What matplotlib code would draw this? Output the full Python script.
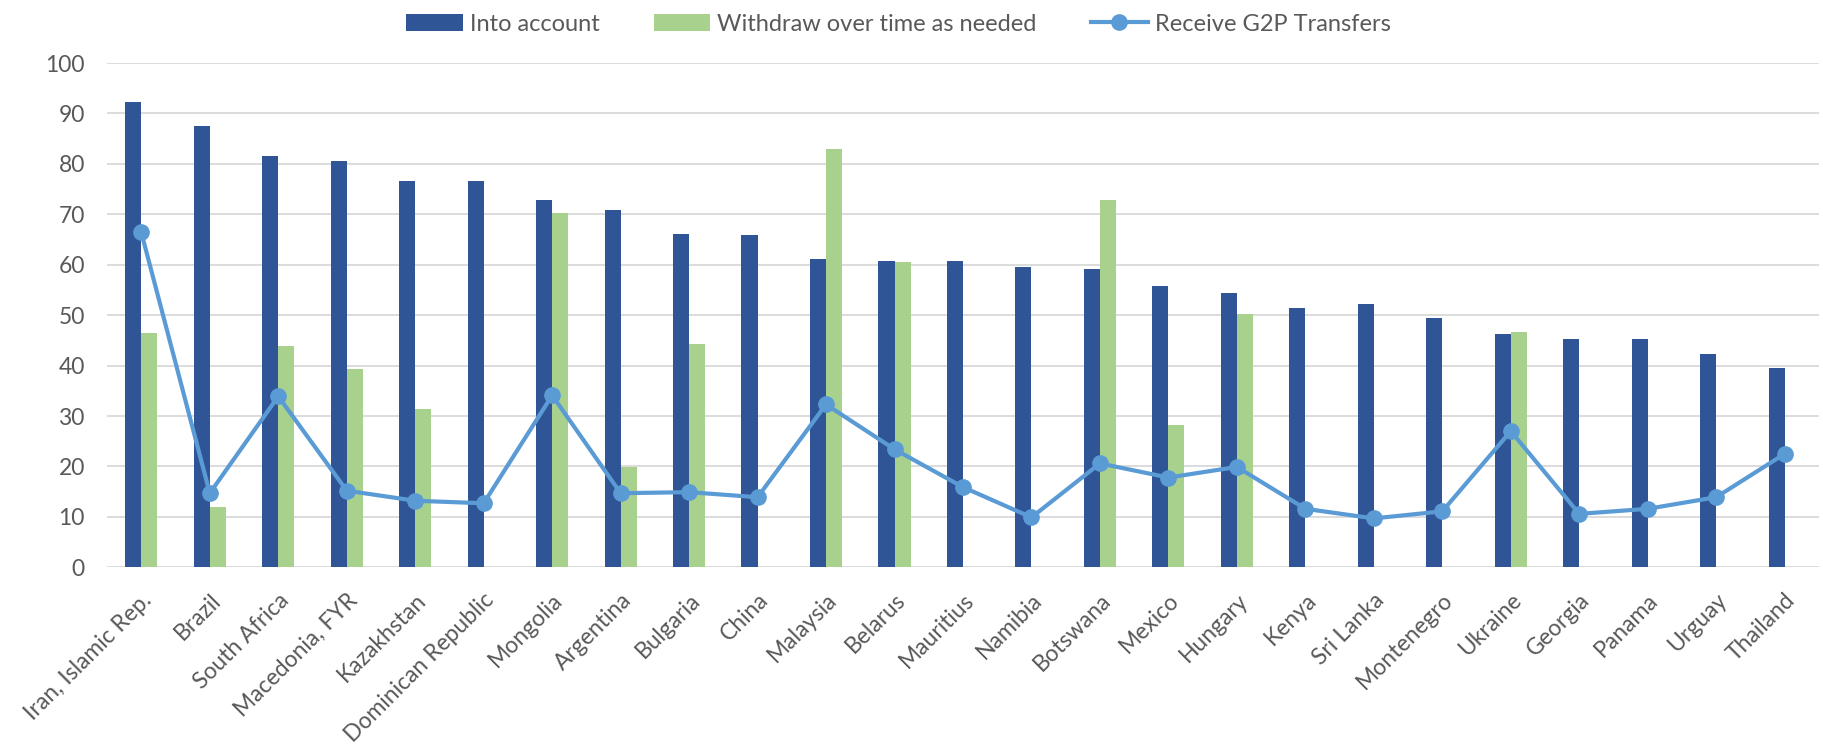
import matplotlib.pyplot as plt
import numpy as np

plt.rcParams['font.family'] = ['Lato', 'DejaVu Sans']

countries = ['Iran, Islamic Rep.', 'Brazil', 'South Africa', 'Macedonia, FYR', 'Kazakhstan',
             'Dominican Republic', 'Mongolia', 'Argentina', 'Bulgaria', 'China', 'Malaysia',
             'Belarus', 'Mauritius', 'Namibia', 'Botswana', 'Mexico', 'Hungary', 'Kenya',
             'Sri Lanka', 'Montenegro', 'Ukraine', 'Georgia', 'Panama', 'Urguay', 'Thailand']

into_account = [92.3, 87.5, 81.6, 80.5, 76.7, 76.7, 72.8, 70.8, 66.0, 65.8, 61.1, 60.8, 60.8,
                59.5, 59.2, 55.8, 54.4, 51.4, 52.2, 49.5, 46.2, 45.3, 45.3, 42.3, 39.5]

withdraw = [46.4, 12.0, 43.9, 39.4, 31.4, np.nan, 70.3, 19.8, 44.2, np.nan, 83.0, 60.6, np.nan,
            np.nan, 72.8, 28.3, 50.3, np.nan, np.nan, np.nan, 46.7, np.nan, np.nan, np.nan, np.nan]

g2p = [66.4, 14.7, 33.9, 15.2, 13.2, 12.7, 34.1, 14.7, 14.9, 13.9, 32.3, 23.4, 15.9, 9.9,
       20.6, 17.8, 19.9, 11.6, 9.7, 11.1, 27.0, 10.6, 11.6, 13.9, 22.5]

BLUE = '#2F5597'
GREEN = '#A9D18E'
LINE = '#5B9BD5'
TEXT = '#595959'

fig = plt.figure(figsize=(18.24, 7.52), dpi=100)
ax = fig.add_axes([0.0587, 0.2456, 0.9385, 0.6706])

x = np.arange(len(countries))
w = 0.235
b1 = ax.bar(x - w / 2, into_account, w, color=BLUE, label='Into account', zorder=2)
b2 = ax.bar(x + w / 2, withdraw, w, color=GREEN, label='Withdraw over time as needed', zorder=2)
ln, = ax.plot(x, g2p, color=LINE, lw=3, marker='o', ms=11, label='Receive G2P Transfers', zorder=3)

ax.set_ylim(0, 100)
ax.set_xlim(-0.5, 24.5)
ax.set_yticks(range(0, 101, 10))
ax.yaxis.grid(True, color='#D9D9D9', lw=1.3, zorder=0)
ax.set_axisbelow(True)
for s in ax.spines.values():
    s.set_visible(False)
ax.tick_params(length=0, colors=TEXT)
ax.tick_params(axis='y', labelsize=16.5, pad=16)
ax.set_xticks(x)
ax.set_xticklabels(countries, rotation=45, ha='right', rotation_mode='anchor')
ax.tick_params(axis='x', labelsize=16.5, pad=16)

fig.legend([b1, b2, ln], ['Into account', 'Withdraw over time as needed', 'Receive G2P Transfers'],
           loc='center', bbox_to_anchor=(0.4925, 0.968), ncol=3, frameon=False, fontsize=17,
           labelcolor=TEXT, handlelength=2.4, handletextpad=0.3, columnspacing=2.3)

fig.savefig('out.png')
